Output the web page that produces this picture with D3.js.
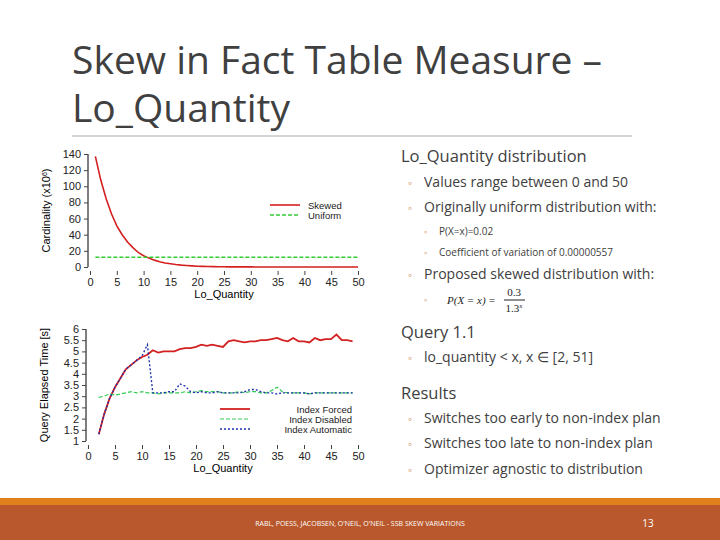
<!DOCTYPE html><html><head><meta charset="utf-8"><script src="https://cdn.jsdelivr.net/npm/d3@7"></script>
<style>body{margin:0}svg{display:block}</style></head><body><svg id="s" width="720" height="540"></svg>
<script>
const qtyTop=d3.range(1,51);
const skewed=[137,108,85,66,51,40,31,24,18,14,11,8.5,6.5,5,4,3,2.3,1.8,1.4,1,0.8,0.6,0.5,0.4,0.3,0.2,0.2,0.1,0.1,0.1,0,0,0,0,0,0,0,0,0,0,0,0,0,0,0,0,0,0,0,0];
const uniform=qtyTop.map(()=>12);
const qtyBot=d3.range(2,50);
const forced=[1.3,2.2,2.9,3.4,3.8,4.2,4.4,4.6,4.75,4.85,5.05,4.95,5.0,5.0,5.0,5.1,5.15,5.15,5.2,5.3,5.25,5.3,5.25,5.2,5.45,5.5,5.45,5.4,5.45,5.45,5.5,5.5,5.55,5.6,5.5,5.45,5.6,5.45,5.45,5.4,5.6,5.5,5.55,5.55,5.75,5.5,5.5,5.45];
const disabled=[2.95,3.0,3.1,3.05,3.1,3.15,3.2,3.15,3.2,3.15,3.15,3.1,3.15,3.15,3.15,3.15,3.2,3.15,3.2,3.25,3.2,3.2,3.2,3.15,3.15,3.15,3.2,3.15,3.2,3.2,3.15,3.15,3.25,3.4,3.2,3.15,3.15,3.15,3.15,3.1,3.15,3.15,3.15,3.15,3.15,3.15,3.15,3.15];
const automatic=[1.3,2.2,2.9,3.4,3.8,4.2,4.4,4.6,4.8,5.3,3.15,3.15,3.15,3.2,3.2,3.55,3.45,3.2,3.15,3.2,3.15,3.15,3.2,3.15,3.15,3.15,3.15,3.2,3.3,3.3,3.2,3.15,3.15,3.1,3.15,3.15,3.15,3.15,3.15,3.1,3.15,3.15,3.15,3.15,3.15,3.15,3.15,3.15];
const xTicks=d3.range(0,51,5), yTopTicks=d3.range(0,141,20), yBotTicks=d3.range(1,6.01,0.5);

const svg=d3.select("#s"), F="Liberation Sans, Arial, sans-serif", T="Open Sans, sans-serif";
svg.append("rect").attr("width",720).attr("height",540).attr("fill","#fff");
const tt=svg.append("text").attr("font-family",T).attr("font-size",39).attr("fill","#404040");
tt.append("tspan").attr("x",72).attr("y",74).text("Skew in Fact Table Measure –");
tt.append("tspan").attr("x",72).attr("y",122).text("Lo_Quantity");
svg.append("line").attr("x1",72).attr("x2",632).attr("y1",136).attr("y2",136).attr("stroke","#aaa");

function chart(x0,x1,y0,y1,dom,ticks,fmt,ylab,series,lx,ly,lalign){
  const x=d3.scaleLinear([0,50],[x0,x1]), y=d3.scaleLinear(dom,[y0,y1]);
  const g=svg.append("g").attr("font-family",F);
  const ax=g.append("g").attr("transform",`translate(0,${y0+4})`).call(d3.axisBottom(x).tickValues(xTicks).tickSize(4).tickSizeOuter(0));
  ax.select(".domain").remove();
  const ay=g.append("g").attr("transform",`translate(${x0-2},0)`).call(d3.axisLeft(y).tickValues(ticks).tickFormat(fmt).tickSize(4).tickSizeOuter(0));
  ay.select(".domain").attr("d",`M0,${y1}V${y0}`);
  g.selectAll(".tick text").attr("font-size",11).attr("fill","#222");
  g.selectAll(".tick line").attr("stroke","#444");
  g.append("text").attr("x",(x0+x1)/2).attr("y",y0+31).attr("text-anchor","middle").attr("font-size",11).text("Lo_Quantity");
  g.append("text").attr("transform",`translate(${x0-40},${(y0+y1)/2}) rotate(-90)`).attr("text-anchor","middle").attr("font-size",11).html(ylab);
  series.forEach(s=>{
    g.append("path").datum(s.v).attr("fill","none").attr("stroke",s.c).attr("stroke-width",s.w).attr("stroke-dasharray",s.d)
      .attr("d",d3.line().x((d,i)=>x(s.x[i])).y(d=>y(d)));
  });
  series.forEach((s,i)=>{
    const yy=ly+i*10;
    g.append("line").attr("x1",lx).attr("x2",lx+30).attr("y1",yy).attr("y2",yy).attr("stroke",s.c).attr("stroke-width",s.w).attr("stroke-dasharray",s.d);
    g.append("text").attr("x",lalign==="end"?352:lx+38).attr("y",yy+3.5).attr("text-anchor",lalign).attr("font-size",9.5).attr("fill","#222").text(s.n);
  });
}
chart(90,358,267,154,[0,140],yTopTicks,d3.format("d"),"Cardinality (x10<tspan baseline-shift='super' font-size='7'>6</tspan>)",
 [{n:"Skewed",v:skewed,x:qtyTop,c:"#d42020",w:1.6,d:null},{n:"Uniform",v:uniform,x:qtyTop,c:"#33cc33",w:1.6,d:"4,2"}],270,205,"start");
chart(88,358,441,329,[1,6],yBotTicks,d=>d%1?d.toFixed(1):d,"Query Elapsed Time [s]",
 [{n:"Index Forced",v:forced,x:qtyBot,c:"#d42020",w:1.8,d:null},{n:"Index Disabled",v:disabled,x:qtyBot,c:"#33cc55",w:1.2,d:"4,2"},{n:"Index Automatic",v:automatic,x:qtyBot,c:"#2233aa",w:1.4,d:"2,2"}],220,409,"end");

const R=svg.append("g").attr("font-family",T).attr("fill","#404040");
function t(x,y,s,txt){R.append("text").attr("x",x).attr("y",y).attr("font-size",s).text(txt);}
function b(x,y,s){R.append("text").attr("x",x).attr("y",y).attr("font-size",s).attr("fill","#c87a40").text("◦");}
t(401,162,16.5,"Lo_Quantity distribution");
b(408,187,12);t(424,187,14,"Values range between 0 and 50");
b(408,212,12);t(424,212,14,"Originally uniform distribution with:");
b(424,235,9);t(439,235,10,"P(X=x)=0.02");
b(424,256,9);t(439,256,10,"Coefficient of variation of 0.00000557");
b(408,279,12);t(424,279,14,"Proposed skewed distribution with:");
b(424,303,9);
const fm=svg.append("g").attr("font-family","Liberation Serif, serif").attr("font-size",11).attr("fill","#222");
fm.append("text").attr("x",447).attr("y",304).attr("font-style","italic").text("P(X = x) =");
fm.append("text").attr("x",514).attr("y",296).attr("text-anchor","middle").text("0.3");
fm.append("line").attr("x1",504).attr("x2",525).attr("y1",300).attr("y2",300).attr("stroke","#222");
fm.append("text").attr("x",514).attr("y",312).attr("text-anchor","middle").html("1.3<tspan font-size='7' baseline-shift='super' font-style='italic'>x</tspan>");
t(401,338,16.5,"Query 1.1");
b(408,362,12);t(424,362,14,"lo_quantity < x, x ∈ [2, 51]");
t(401,399,16.5,"Results");
b(408,423,12);t(424,423,14,"Switches too early to non-index plan");
b(408,448,12);t(424,448,14,"Switches too late to non-index plan");
b(408,474,12);t(424,474,14,"Optimizer agnostic to distribution");
svg.append("rect").attr("x",0).attr("y",498).attr("width",720).attr("height",42).attr("fill","#b8582c");
svg.append("rect").attr("x",0).attr("y",498).attr("width",720).attr("height",7).attr("fill","#e0801a");
svg.append("text").attr("x",360).attr("y",526).attr("text-anchor","middle").attr("font-family",T).attr("font-size",7).attr("fill","#fff").text("RABL, POESS, JACOBSEN, O'NEIL, O'NEIL - SSB SKEW VARIATIONS");
svg.append("text").attr("x",648).attr("y",527).attr("text-anchor","middle").attr("font-family",T).attr("font-size",10).attr("fill","#fff").text("13");
</script></body></html>
